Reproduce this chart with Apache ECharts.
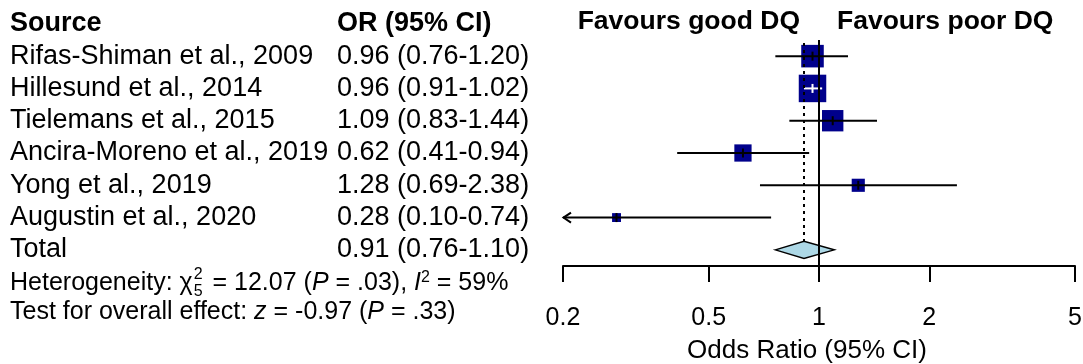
<!DOCTYPE html>
<html><head><meta charset="utf-8">
<script src="https://cdn.jsdelivr.net/npm/echarts@6/dist/echarts.min.js"></script>
<style>html,body{margin:0;padding:0;background:#fff}#c{width:1083px;height:364px}</style>
</head><body><div id="c"></div>
<script>
// ---- data ----
const sources = ['Rifas-Shiman et al., 2009','Hillesund et al., 2014','Tielemans et al., 2015','Ancira-Moreno et al., 2019','Yong et al., 2019','Augustin et al., 2020'];
const oddsRatio = [0.96, 0.96, 1.09, 0.62, 1.28, 0.28];
const ciLow     = [0.76, 0.91, 0.83, 0.41, 0.69, 0.10];
const ciHigh    = [1.20, 1.02, 1.44, 0.94, 2.38, 0.74];
const weights   = [22.4, 33.3, 20.1, 13.1, 7.6, 3.5];
const totalLabel = 'Total';
const totalOR = [0.91];
const totalLow = [0.76];
const totalHigh = [1.10];
const xTicks = [0.2, 0.5, 1, 2, 5];
const headerSource = 'Source';
const headerOR = 'OR (95% CI)';
const favoursLeft = 'Favours good DQ';
const favoursRight = 'Favours poor DQ';
const xTitle = 'Odds Ratio (95% CI)';

// ---- helpers ----
const FONT = '"Liberation Sans", Arial, Helvetica, sans-serif';
const fmt = v => v.toFixed(2);
const rowLabels = sources.concat([totalLabel]);
const orLabels = oddsRatio.map((v,i)=>fmt(v)+' ('+fmt(ciLow[i])+'-'+fmt(ciHigh[i])+')')
  .concat([fmt(totalOR[0])+' ('+fmt(totalLow[0])+'-'+fmt(totalHigh[0])+')']);
const wMax = Math.max.apply(null, weights);
const MAX_BOX = 27.5;
const XMIN = xTicks[0], XMAX = xTicks[xTicks.length-1];

const cv = document.createElement('canvas').getContext('2d');
function tw(t, size, extra){ cv.font = (extra||'') + ' ' + size + 'px ' + FONT; return cv.measureText(t).width; }

const studyData = oddsRatio.map((v,i)=>[v, i, ciLow[i], ciHigh[i], weights[i]]);
const totalData = [[totalOR[0], sources.length, totalLow[0], totalHigh[0]]];

function renderStudy(params, api){
  const y = api.value(1);
  const or = api.value(0), lo = api.value(2), hi = api.value(3), w = api.value(4);
  const p = api.coord([or, y]);
  const pl = api.coord([Math.max(lo, XMIN), y]);
  const ph = api.coord([Math.min(hi, XMAX), y]);
  const side = MAX_BOX * Math.sqrt(w / wMax);
  const inside = (p[0]-pl[0] < side/2) && (ph[0]-p[0] < side/2);
  const col = inside ? '#ffffff' : '#000000';
  const ch = [
    {type:'rect', shape:{x:p[0]-side/2, y:p[1]-side/2, width:side, height:side}, style:{fill:'#00008B'}},
    {type:'line', shape:{x1:pl[0], y1:p[1], x2:ph[0], y2:p[1]}, style:{stroke:col, lineWidth:2}},
    {type:'line', shape:{x1:p[0], y1:p[1]-4.5, x2:p[0], y2:p[1]+4.5}, style:{stroke:col, lineWidth:2}}
  ];
  if (lo < XMIN) {
    ch.push({type:'polyline', shape:{points:[[pl[0]+8, p[1]-5],[pl[0]+0.5, p[1]],[pl[0]+8, p[1]+5]]}, style:{stroke:'#000', lineWidth:2, fill:null}});
  }
  return {type:'group', children: ch};
}
function renderTotal(params, api){
  const y = api.value(1);
  const c = api.coord([api.value(0), y]);
  const l = api.coord([api.value(2), y]);
  const h = api.coord([api.value(3), y]);
  const hh = 8.5;
  const top = params.coordSys.y + 3;
  return {type:'group', children:[
    {type:'line', shape:{x1:c[0], y1:top, x2:c[0], y2:c[1]-hh}, style:{stroke:'#000', lineWidth:2, lineDash:[3,4]}},
    {type:'polygon', shape:{points:[[l[0],c[1]],[c[0],c[1]-hh],[h[0],c[1]],[c[0],c[1]+hh]]}, style:{fill:'#ADD8E6', stroke:'#000', lineWidth:1.5}}
  ]};
}

// footer text pieces
const FS = 25, SS = 16;
const hetA = 'Heterogeneity: \u03C7';
const hetAw = tw(hetA, FS);
const scriptX = 10 + hetAw + 1;
const hetBx = scriptX + tw('2', SS) + 3;
const HET_Y = 283, TEST_Y = 312;

const chart = echarts.init(document.getElementById('c'), null, {renderer:'canvas'});
chart.setOption({
  animation:false,
  backgroundColor:'#fff',
  grid:{left:563, right:8, top:40, height:226, outerBoundsMode:'none', containLabel:false},
  xAxis:{
    type:'log', logBase:10, min:XMIN, max:XMAX,
    axisLine:{show:true, onZero:false, lineStyle:{color:'#000', width:2}},
    axisTick:{show:true, length:16, lineStyle:{color:'#000', width:2}, customValues:xTicks},
    axisLabel:{show:true, customValues:xTicks, margin:40, fontSize:25, color:'#000', fontFamily:FONT,
      formatter: v => String(+(+v).toPrecision(3))},
    splitLine:{show:false}, minorTick:{show:false},
    name:xTitle, nameLocation:'middle', nameGap:72,
    nameTextStyle:{fontSize:26, color:'#000', fontFamily:FONT, padding:[0,24,0,0]}
  },
  yAxis:[
    {type:'category', data:rowLabels, inverse:true, position:'left',
     axisLine:{show:false}, axisTick:{show:false}, splitLine:{show:false},
     axisLabel:{interval:0, align:'left', margin:553, fontSize:27, color:'#000', fontFamily:FONT}},
    {type:'category', data:orLabels, inverse:true, position:'left', offset:0,
     axisLine:{show:false}, axisTick:{show:false}, splitLine:{show:false},
     axisLabel:{interval:0, align:'left', margin:226, fontSize:27, color:'#000', fontFamily:FONT}}
  ],
  series:[
    {type:'custom', name:'studies', data:studyData, renderItem:renderStudy, yAxisIndex:0, z:3,
     markLine:{silent:true, symbol:'none', label:{show:false}, lineStyle:{color:'#000', width:2, type:'solid'},
       data:[{xAxis:1}]}},
    {type:'custom', name:'total', data:totalData, renderItem:renderTotal, yAxisIndex:0, z:4}
  ],
  graphic:[
    {type:'text', x:10, y:24, style:{text:headerSource, font:'bold 27px '+FONT, fill:'#000', verticalAlign:'middle'}},
    {type:'text', x:337, y:24, style:{text:headerOR, font:'bold 27px '+FONT, fill:'#000', verticalAlign:'middle'}},
    {type:'text', x:800, y:22, style:{text:favoursLeft, font:'bold 26.5px '+FONT, fill:'#000', align:'right', verticalAlign:'middle'}},
    {type:'text', x:837, y:22, style:{text:favoursRight, font:'bold 26.5px '+FONT, fill:'#000', align:'left', verticalAlign:'middle'}},
    {type:'text', x:10, y:HET_Y, style:{text:hetA, font:FS+'px '+FONT, fill:'#000', verticalAlign:'middle'}},
    {type:'text', x:scriptX, y:HET_Y-8, style:{text:'2', font:SS+'px '+FONT, fill:'#000', verticalAlign:'middle'}},
    {type:'text', x:scriptX, y:HET_Y+9, style:{text:'5', font:SS+'px '+FONT, fill:'#000', verticalAlign:'middle'}},
    {type:'text', x:hetBx, y:HET_Y, style:{
      text:' = 12.07 ({i|P} = .03), {i|I}{sup|2} = 59%', font:FS+'px '+FONT, fill:'#000', verticalAlign:'middle',
      rich:{i:{fontStyle:'italic', fontSize:FS, fontFamily:FONT}, sup:{fontSize:SS, fontFamily:FONT, verticalAlign:'top', padding:[0,0,10,0]}}}},
    {type:'text', x:10, y:TEST_Y, style:{
      text:'Test for overall effect: {i|z} = -0.97 ({i|P} = .33)', font:FS+'px '+FONT, fill:'#000', verticalAlign:'middle',
      rich:{i:{fontStyle:'italic', fontSize:FS, fontFamily:FONT}}}}
  ]
});
</script></body></html>
